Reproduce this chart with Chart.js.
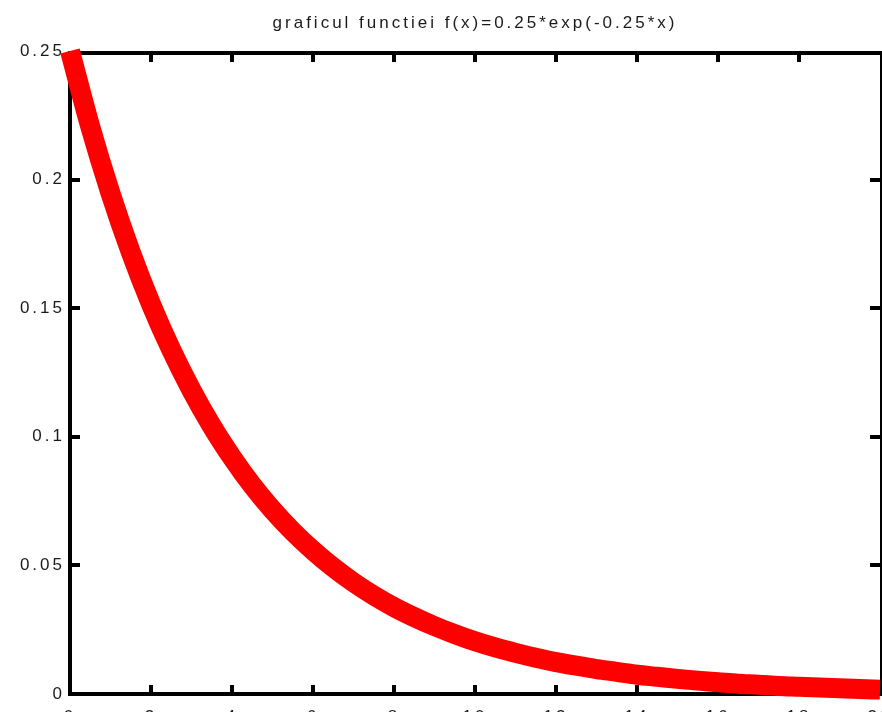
<!DOCTYPE html>
<html>
<head>
<meta charset="utf-8">
<script src="https://cdn.jsdelivr.net/npm/chart.js@4"></script>
<style>
  html, body { margin: 0; padding: 0; background: #ffffff; overflow: hidden; }
  canvas { display: block; }
</style>
</head>
<body>
<canvas id="c" width="882" height="712"></canvas>
<script>
// ---- data ----
const titleText = "graficul functiei f(x)=0.25*exp(-0.25*x)";
const xValues = [0, 0.5, 1, 1.5, 2, 2.5, 3, 3.5, 4, 4.5, 5, 5.5, 6, 6.5, 7, 7.5, 8, 8.5, 9, 9.5,
                 10, 10.5, 11, 11.5, 12, 12.5, 13, 13.5, 14, 14.5, 15, 15.5, 16, 16.5, 17, 17.5, 18, 18.5, 19, 19.5, 20];
const yValues = [0.2500, 0.2206, 0.1947, 0.1718, 0.1516, 0.1338, 0.1181, 0.1042, 0.0920, 0.0811,
                 0.0716, 0.0632, 0.0558, 0.0492, 0.0434, 0.0383, 0.0338, 0.0299, 0.0264, 0.0233,
                 0.0205, 0.0181, 0.0160, 0.0141, 0.0124, 0.0110, 0.0097, 0.0086, 0.0075, 0.0067,
                 0.0059, 0.0052, 0.0046, 0.0040, 0.0036, 0.0031, 0.0028, 0.0025, 0.0022, 0.0019, 0.0017];
const xTicks = [0, 2, 4, 6, 8, 10, 12, 14, 16, 18, 20];
const yTicks = [0, 0.05, 0.1, 0.15, 0.2, 0.25];

const FONT_FAMILY = "'Liberation Sans', Arial, sans-serif";

const points = xValues.map((x, i) => ({ x: x, y: yValues[i] }));

// letter spacing for all canvas text (the reference text is widely spaced)
const spacingPlugin = {
  id: 'spacing',
  beforeDraw(chart) { chart.ctx.letterSpacing = '3px'; }
};

// gnuplot-like frame with inward tick marks on all four sides
const framePlugin = {
  id: 'frame',
  beforeDatasetsDraw(chart) {
    const ctx = chart.ctx;
    const ca = chart.chartArea;
    const xs = chart.scales.x, ys = chart.scales.y;
    ctx.save();
    ctx.strokeStyle = '#000000';
    ctx.lineWidth = 4;
    ctx.lineCap = 'butt';
    ctx.beginPath();
    ctx.moveTo(ca.left, ca.top); ctx.lineTo(ca.left, ca.bottom + 2);
    ctx.moveTo(ca.left - 2, ca.bottom); ctx.lineTo(ca.right + 4, ca.bottom);
    ctx.moveTo(ca.left - 2, ca.top + 2); ctx.lineTo(ca.right + 4, ca.top + 2);
    ctx.moveTo(ca.right + 2, ca.top); ctx.lineTo(ca.right + 2, ca.bottom);
    ctx.stroke();

    ctx.beginPath();
    xTicks.forEach(v => {
      const px = Math.round(xs.getPixelForValue(v));
      if (v !== 0 && v !== 20) {
        ctx.moveTo(px, ca.bottom - 2); ctx.lineTo(px, ca.bottom - 9);
        ctx.moveTo(px, ca.top + 4); ctx.lineTo(px, ca.top + 11);
      }
    });
    yTicks.forEach(v => {
      const py = Math.round(ys.getPixelForValue(v));
      if (v !== 0 && v !== 0.25) {
        ctx.moveTo(ca.left, py); ctx.lineTo(ca.left + 10, py);
        ctx.moveTo(ca.right, py); ctx.lineTo(ca.right - 10, py);
      }
    });
    ctx.stroke();
    ctx.restore();
  },
  afterDraw(chart) {
    const ctx = chart.ctx;
    const ca = chart.chartArea;
    ctx.save();
    ctx.letterSpacing = '3px';
    ctx.fillStyle = '#1a1a1a';
    ctx.font = "17px " + FONT_FAMILY;
    ctx.textAlign = 'center';
    ctx.textBaseline = 'alphabetic';
    ctx.fillText(titleText, (ca.left + ca.right) / 2, 28);
    ctx.restore();
  }
};

const fmt = v => String(Number(Number(v).toFixed(2)));

new Chart(document.getElementById('c'), {
  type: 'line',
  data: {
    datasets: [{
      data: points,
      borderColor: '#ff0000',
      backgroundColor: '#ff0000',
      borderWidth: 20,
      pointRadius: 0,
      pointHoverRadius: 0,
      fill: false,
      cubicInterpolationMode: 'monotone',
      borderCapStyle: 'butt',
      clip: false
    }]
  },
  options: {
    responsive: false,
    animation: false,
    events: [],
    layout: { padding: { top: 51, right: 2, bottom: 0, left: 0 } },
    plugins: {
      legend: { display: false },
      title: { display: false },
      tooltip: { enabled: false }
    },
    scales: {
      x: {
        type: 'linear',
        min: 0,
        max: 20,
        grid: { display: false, drawTicks: false },
        border: { display: false },
        afterBuildTicks(scale) { scale.ticks = xTicks.map(v => ({ value: v })); },
        ticks: {
          autoSkip: false,
          maxRotation: 0,
          padding: 13,
          color: '#1a1a1a',
          font: { family: FONT_FAMILY, size: 17 },
          callback: fmt
        },
        afterFit(scale) {
          scale.height = 18;
          scale.paddingLeft = 0;
          scale.paddingRight = 0;
        }
      },
      y: {
        type: 'linear',
        min: 0,
        max: 0.25,
        grid: { display: false, drawTicks: false },
        border: { display: false },
        afterBuildTicks(scale) { scale.ticks = yTicks.map(v => ({ value: v })); },
        ticks: {
          autoSkip: false,
          padding: 5,
          color: '#1a1a1a',
          font: { family: FONT_FAMILY, size: 17 },
          callback: fmt
        },
        afterFit(scale) {
          scale.width = 70;
          scale.paddingTop = 0;
          scale.paddingBottom = 0;
        }
      }
    }
  },
  plugins: [spacingPlugin, framePlugin]
});
</script>
</body>
</html>
